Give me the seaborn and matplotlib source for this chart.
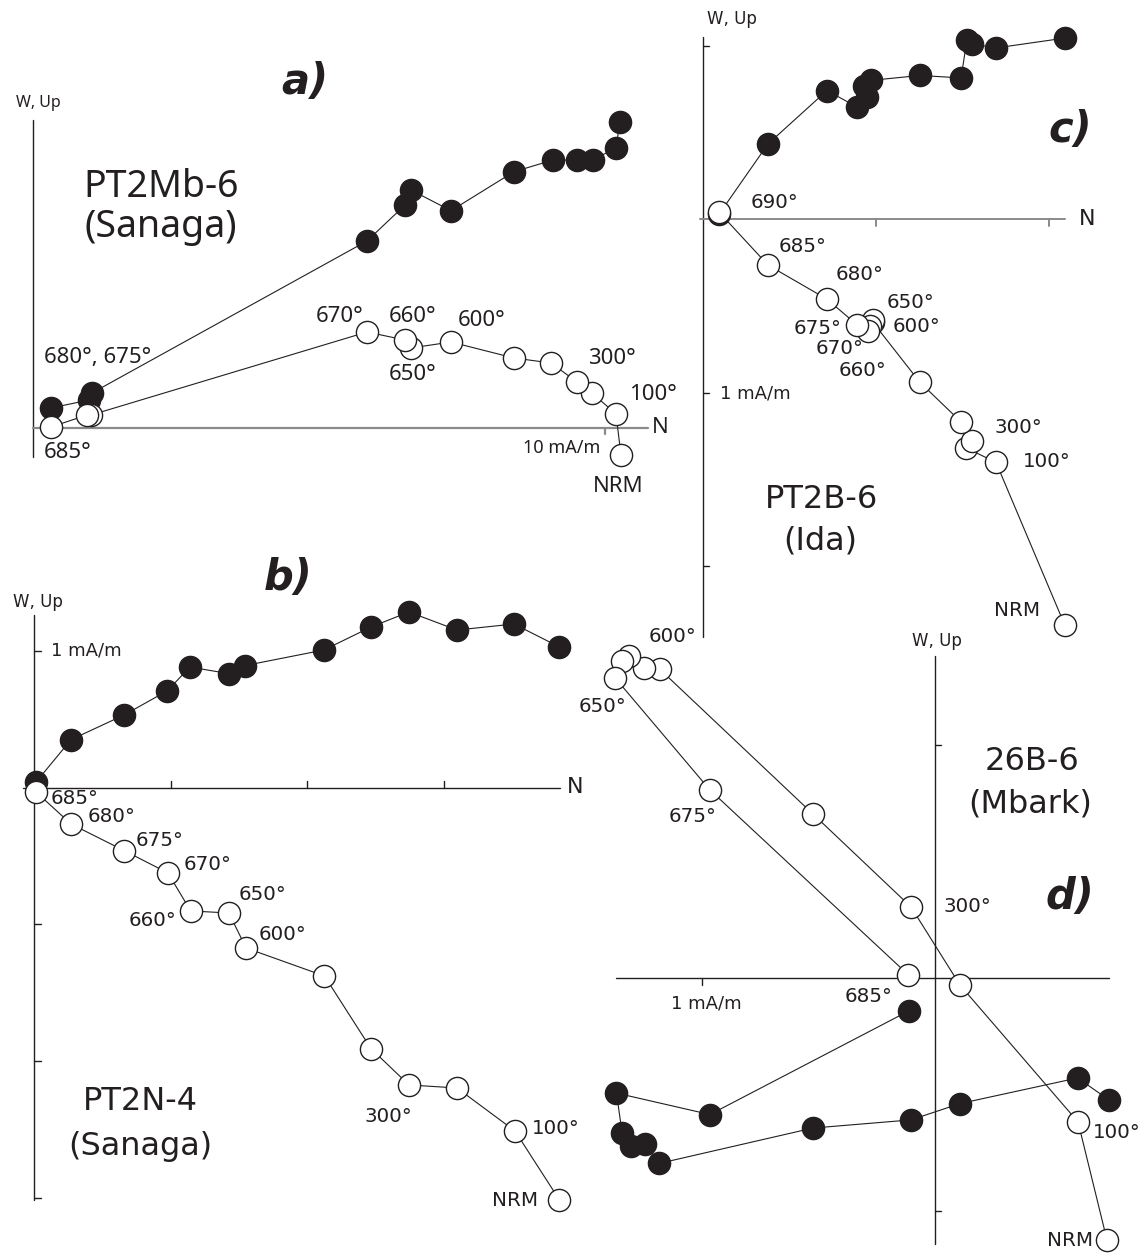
import numpy as np
import pandas as pd
import matplotlib
matplotlib.use("Agg")
import matplotlib.pyplot as plt
import seaborn as sns

sns.set_theme(style="white")
plt.rcParams['font.family'] = ['DejaVu Sans']

W, H = 1143, 1253

# ---------------- DATA (mA/m) ----------------
# Panel a) PT2Mb-6 (Sanaga)  -- sequence NRM ... 685 C
a_filled_x = [10.262, 10.192, 9.790, 9.511, 9.092, 8.410, 7.310, 6.611, 6.507, 5.843, 1.039, 0.987, 0.323]
a_filled_y = [5.341, 4.887, 4.672, 4.672, 4.672, 4.468, 3.787, 4.148, 3.886, 3.258, 0.603, 0.480, 0.341]
a_open_x = [10.279, 10.192, 9.773, 9.511, 9.057, 8.410, 7.310, 6.611, 6.507, 5.843, 1.022, 0.952, 0.323]
a_open_y = [-0.480, 0.236, 0.603, 0.795, 1.127, 1.214, 1.493, 1.389, 1.528, 1.668, 0.218, 0.218, 0.009]

# Panel b) PT2N-4 (Sanaga)
b_filled_x = [3.844, 3.511, 3.094, 2.743, 2.465, 2.121, 1.544, 1.426, 1.141, 0.973, 0.658, 0.271, 0.015]
b_filled_y = [1.028, 1.196, 1.152, 1.284, 1.174, 1.006, 0.892, 0.833, 0.881, 0.706, 0.530, 0.350, 0.040]
b_open_x = [3.844, 3.519, 3.094, 2.743, 2.465, 2.125, 1.551, 1.426, 1.146, 0.980, 0.658, 0.271, 0.015]
b_open_y = [-3.018, -2.513, -2.198, -2.176, -1.910, -1.379, -1.174, -0.918, -0.903, -0.625, -0.461, -0.267, -0.033]

# Panel c) PT2B-6 (Ida)
c_filled_x = [2.092, 1.694, 1.555, 1.526, 1.492, 1.255, 0.972, 0.932, 0.949, 0.892, 0.718, 0.378, 0.095]
c_filled_y = [1.047, 0.990, 1.013, 1.038, 0.817, 0.831, 0.803, 0.772, 0.707, 0.649, 0.744, 0.436, 0.030]
c_open_x = [2.089, 1.694, 1.520, 1.553, 1.490, 1.255, 0.984, 0.982, 0.967, 0.955, 0.890, 0.717, 0.378, 0.095]
c_open_y = [-2.337, -1.402, -1.317, -1.277, -1.166, -0.940, -0.594, -0.580, -0.617, -0.641, -0.606, -0.459, -0.263, 0.043]

# Panel d) 26B-6 (Mbark)
d_filled_x = [0.745, 0.612, 0.107, -0.103, -0.524, -1.185, -1.245, -1.306, -1.343, -1.367, -0.966, -0.112]
d_filled_y = [-0.522, -0.429, -0.539, -0.609, -0.644, -0.796, -0.712, -0.719, -0.664, -0.494, -0.586, -0.141]
d_open_x = [0.738, 0.614, 0.107, -0.103, -0.524, -1.182, -1.249, -1.313, -1.343, -1.373, -0.966, -0.116]
d_open_y = [-1.124, -0.618, -0.030, 0.305, 0.704, 1.326, 1.332, 1.384, 1.361, 1.288, 0.807, 0.015]

# ---------------- LAYOUT ----------------
fig = plt.figure(figsize=(W / 100, H / 100), dpi=100)
fig.patch.set_facecolor('white')

# origin (px) and pixels per mA/m for each panel
panels = {
    'a': (32.5, 427.5, 57.25),
    'b': (34.0, 787.5, 136.7),
    'c': (702.5, 219.5, 173.3),
    'd': (935.0, 978.0, 233.0),
}
INK = '#231f20'


def make_ax(key):
    ox, oy, s = panels[key]
    ax = fig.add_axes([0, 0, 1, 1])
    ax.set_xlim(-ox / s, (W - ox) / s)
    ax.set_ylim((oy - H) / s, oy / s)
    ax.axis('off')
    ax.patch.set_alpha(0)
    return ax, s


def draw_series(ax, fx, fy, ox_, oy_):
    df_f = pd.DataFrame({'x': fx, 'y': fy})
    df_o = pd.DataFrame({'x': ox_, 'y': oy_})
    sns.lineplot(data=df_f, x='x', y='y', sort=False, estimator=None, color=INK,
                 lw=0.8, ax=ax, zorder=2, legend=False)
    sns.lineplot(data=df_o, x='x', y='y', sort=False, estimator=None, color=INK,
                 lw=0.8, ax=ax, zorder=2, legend=False)
    sns.scatterplot(data=df_f, x='x', y='y', s=255, color=INK, edgecolor=INK,
                    linewidth=1.0, ax=ax, zorder=3, legend=False)
    sns.scatterplot(data=df_o, x='x', y='y', s=255, color='white', edgecolor=INK,
                    linewidth=1.0, ax=ax, zorder=4, legend=False)


def axes_lines(ax, s, vy, hx, vticks=(), hticks=(), hdir=-1, hcolor=INK, hlw=1.0):
    ax.plot([0, 0], vy, color=INK, lw=1.0, zorder=1)
    ax.plot(hx, [0, 0], color=hcolor, lw=hlw, zorder=1)
    tl = 6.5 / s
    for t in vticks:
        ax.plot([0, tl], [t, t], color=INK, lw=1.0, zorder=1)
    for t in hticks:
        ax.plot([t, t], [0, hdir * tl], color=hcolor, lw=hlw, zorder=1)


# panel a
ax, s = make_ax('a')
axes_lines(ax, s, [-0.515, 5.371], [0, 10.75], hticks=[10], hdir=-1, hcolor='#8a8a8a', hlw=1.6)
draw_series(ax, a_filled_x, a_filled_y, a_open_x, a_open_y)

# panel b
ax, s = make_ax('b')
axes_lines(ax, s, [-3.02, 1.265], [-0.08, 3.85], vticks=[1, -1, -2, -3], hticks=[1, 2, 3], hdir=1)
draw_series(ax, b_filled_x, b_filled_y, b_open_x, b_open_y)

# panel c
ax, s = make_ax('c')
axes_lines(ax, s, [-2.409, 1.053], [-0.015, 2.092], vticks=[1, -1, -2], hticks=[1, 2], hdir=-1,
           hcolor='#8a8a8a', hlw=1.4)
draw_series(ax, c_filled_x, c_filled_y, c_open_x, c_open_y)

# panel d
ax, s = make_ax('d')
axes_lines(ax, s, [-1.142, 1.382], [-1.369, 0.747], vticks=[1, -1], hticks=[-1], hdir=-1)
draw_series(ax, d_filled_x, d_filled_y, d_open_x, d_open_y)


# ---------------- TEXT ----------------
def T(x, y, txt, size, family='DejaVu Sans', **kw):
    fig.text(x / W, 1 - y / H, txt, fontsize=size, ha=kw.pop('ha', 'center'),
             va=kw.pop('va', 'center'), family=[family, 'DejaVu Sans'], color=INK, **kw)


MY = 'Noto Sans'
# panel a
T(38, 103, 'W, Up', 11.5, MY)
T(305, 82, 'a)', 30, weight='bold', style='oblique')
T(161, 187, 'PT2Mb-6', 27, MY)
T(161, 227, '(Sanaga)', 27, MY)
T(340, 316, '670°', 16, MY)
T(413, 317, '660°', 16, MY)
T(482, 320, '600°', 16, MY)
T(413, 375, '650°', 16, MY)
T(98, 358, '680°, 675°', 16, MY)
T(68, 453, '685°', 16, MY)
T(612, 358, '300°', 16, MY)
T(653, 395, '100°', 16, MY)
T(562, 448, '10 mA/m', 13, MY)
T(660, 428, 'N', 16, MY)
T(618, 487, 'NRM', 16, MY)

# panel b
T(288, 578, 'b)', 30, weight='bold', style='oblique')
T(38, 602, 'W, Up', 12)
T(86, 651, '1 mA/m', 13)
T(575, 787, 'N', 16)
for x, y, t in [(75, 799, '685°'), (112, 816, '680°'), (160, 840, '675°'), (208, 865, '670°'),
                (262, 894, '650°'), (152, 921, '660°'), (282, 934, '600°'), (388, 1116, '300°'),
                (556, 1128, '100°'), (515, 1201, 'NRM')]:
    T(x, y, t, 14.3)
T(140, 1102, 'PT2N-4', 23)
T(140, 1146, '(Sanaga)', 23)

# panel c
T(732, 19, 'W, Up', 12)
T(1070, 130, 'c)', 30, weight='bold', style='oblique')
T(774, 203, '690°', 14.3)
T(1087, 219, 'N', 16)
for x, y, t in [(803, 247, '685°'), (860, 275, '680°'), (910, 303, '650°'), (916, 327, '600°'),
                (818, 328, '675°'), (840, 349, '670°'), (862, 371, '660°'), (1018, 428, '300°'),
                (1047, 462, '100°'), (1017, 610, 'NRM')]:
    T(x, y, t, 14.3)
T(755, 394, '1 mA/m', 13)
T(822, 500, 'PT2B-6', 23)
T(820, 541, '(Ida)', 23)

# panel d
T(937, 641, 'W, Up', 12)
for x, y, t in [(673, 637, '600°'), (603, 706, '650°'), (693, 816, '675°'), (869, 997, '685°'),
                (967, 907, '300°'), (1117, 1132, '100°'), (1070, 1240, 'NRM')]:
    T(x, y, t, 14.3)
T(706, 1003, '1 mA/m', 13)
T(1032, 761, '26B-6', 23)
T(1030, 804, '(Mbark)', 23)
T(1070, 897, 'd)', 30, weight='bold', style='oblique')

fig.savefig('out.png', dpi=100)
